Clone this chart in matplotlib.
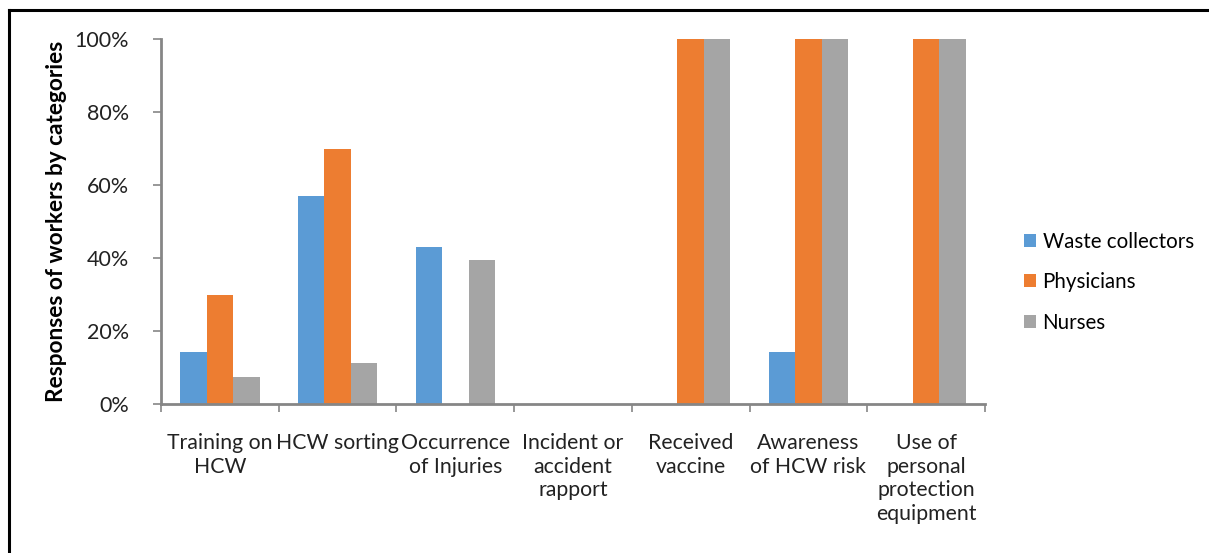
import matplotlib.pyplot as plt
import numpy as np
from matplotlib.lines import Line2D
from matplotlib.ticker import PercentFormatter

plt.rcParams['font.family'] = ['Lato', 'DejaVu Sans']

categories = [
    "Training on\nHCW",
    "HCW sorting",
    "Occurrence\nof Injuries",
    "Incident or\naccident\nrapport",
    "Received\nvaccine",
    "Awareness\nof HCW risk",
    "Use of\npersonal\nprotection\nequipment",
]
series_names = ["Waste collectors", "Physicians", "Nurses"]
waste_collectors = [14.3, 57.1, 42.9, 0, 0, 14.3, 0]
physicians = [30.0, 70.0, 0, 0, 100, 100, 100]
nurses = [7.4, 11.1, 39.5, 0, 100, 100, 100]
colors = ["#5b9bd5", "#ed7d31", "#a5a5a5"]

fig = plt.figure(figsize=(12.09, 5.53), dpi=100)
ax = fig.add_axes([161 / 1209, 1 - 404 / 553, (985 - 161) / 1209, (404 - 39) / 553])

x = np.arange(len(categories))
w = 0.225
for i, (vals, name) in enumerate(zip([waste_collectors, physicians, nurses], series_names)):
    ax.bar(x + (i - 1) * w, vals, w, color=colors[i], label=name, zorder=2)

ax.set_xlim(-0.5, len(categories) - 0.5)
ax.set_ylim(0, 100)
ax.set_yticks(np.arange(0, 101, 20))
ax.yaxis.set_major_formatter(PercentFormatter(decimals=0))
ax.set_xticks(np.arange(-0.5, len(categories), 1.0))
ax.set_xticklabels([])
ax.set_xticks(x, minor=True)
ax.set_xticklabels(categories, minor=True, fontsize=15.3, color="#222222", linespacing=1.22)
ax.tick_params(axis="x", which="minor", length=0, pad=21)
ax.tick_params(axis="x", which="major", length=6, width=1.2, color="#868686", direction="out")
ax.tick_params(axis="y", length=6, width=1.2, color="#868686", labelsize=15.5, labelcolor="#222222", pad=17)

for s in ["top", "right"]:
    ax.spines[s].set_visible(False)
for s in ["left", "bottom"]:
    ax.spines[s].set_color("#868686")
    ax.spines[s].set_linewidth(2)

ax.set_ylabel("Responses of workers by categories", fontsize=16.3, fontweight="bold")
ax.yaxis.set_label_coords(-0.114, 0.5)

ax.legend(loc="center left", bbox_to_anchor=(1.025, 0.334), frameon=False, fontsize=14.8,
          handlelength=0.6, handleheight=0.6, handletextpad=0.3, labelspacing=1.0)

# outer frame (top and left edges visible)
fig.add_artist(Line2D([8.5 / 1209, 8.5 / 1209], [0, 1 - 9.5 / 553], color="black", lw=2.2, transform=fig.transFigure))
fig.add_artist(Line2D([8.5 / 1209, 1], [1 - 9.5 / 553, 1 - 9.5 / 553], color="black", lw=2.2, transform=fig.transFigure))

fig.savefig("out.png", dpi=100)
